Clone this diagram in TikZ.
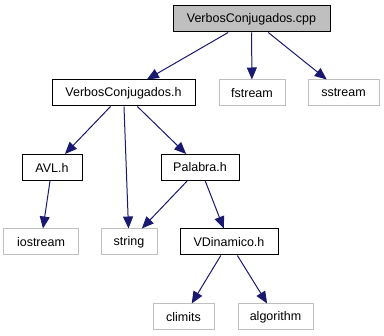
\documentclass[tikz,border=0pt]{standalone}
\usepackage{fontspec}
\setmainfont{Liberation Sans}
\usetikzlibrary{arrows.meta}
\definecolor{edgecolor}{RGB}{25,25,112}
\definecolor{extcolor}{RGB}{191,191,191}

\begin{document}
\begin{tikzpicture}[x=1pt, y=-1pt,
  file/.style={draw=black, line width=1pt, fill=white, minimum height=26pt,
    inner sep=0pt, font=\fontsize{12.5}{14}\selectfont},
  ext/.style={file, draw=extcolor},
  incl/.style={-{Triangle[length=12pt,width=10pt]}, edgecolor, line width=1pt}]

\useasboundingbox (0,0) rectangle (384,336);

% ================= FILES =================
\node[file, fill=extcolor, minimum width=157pt] (cpp) at (251.5,19) {VerbosConjugados.cpp};

\node[file, minimum width=143pt] (vch)     at (123.5,93) {VerbosConjugados.h};
\node[ext,  minimum width=66pt]  (fstream) at (252,93)   {fstream};
\node[ext,  minimum width=71pt]  (sstream) at (343.5,93) {sstream};

\node[file, minimum width=60pt] (avl)     at (52,167.5)  {AVL.h};
\node[file, minimum width=78pt] (palabra) at (200,167.5) {Palabra.h};

\node[ext,  minimum width=74pt] (iostream) at (41,242)  {iostream};
\node[ext,  minimum width=56pt] (string)   at (129,242) {string};
\node[file, minimum width=98pt] (vdin)     at (229,242) {VDinamico.h};

\node[ext, minimum width=61pt] (climits)   at (183.5,317) {climits};
\node[ext, minimum width=75pt] (algorithm) at (275.5,317) {algorithm};

% ================= INCLUDES =================
\draw[incl] (cpp) -- (vch);
\draw[incl] (cpp) -- (fstream);
\draw[incl] (cpp) -- (sstream);

\draw[incl] (vch) -- (avl);
\draw[incl] (vch) -- (string);
\draw[incl] (vch) -- (palabra);

\draw[incl] (avl) -- (iostream);

\draw[incl] (palabra) -- (string);
\draw[incl] (palabra) -- (vdin);

\draw[incl] (vdin) -- (climits);
\draw[incl] (vdin) -- (algorithm);

\end{tikzpicture}
\end{document}
